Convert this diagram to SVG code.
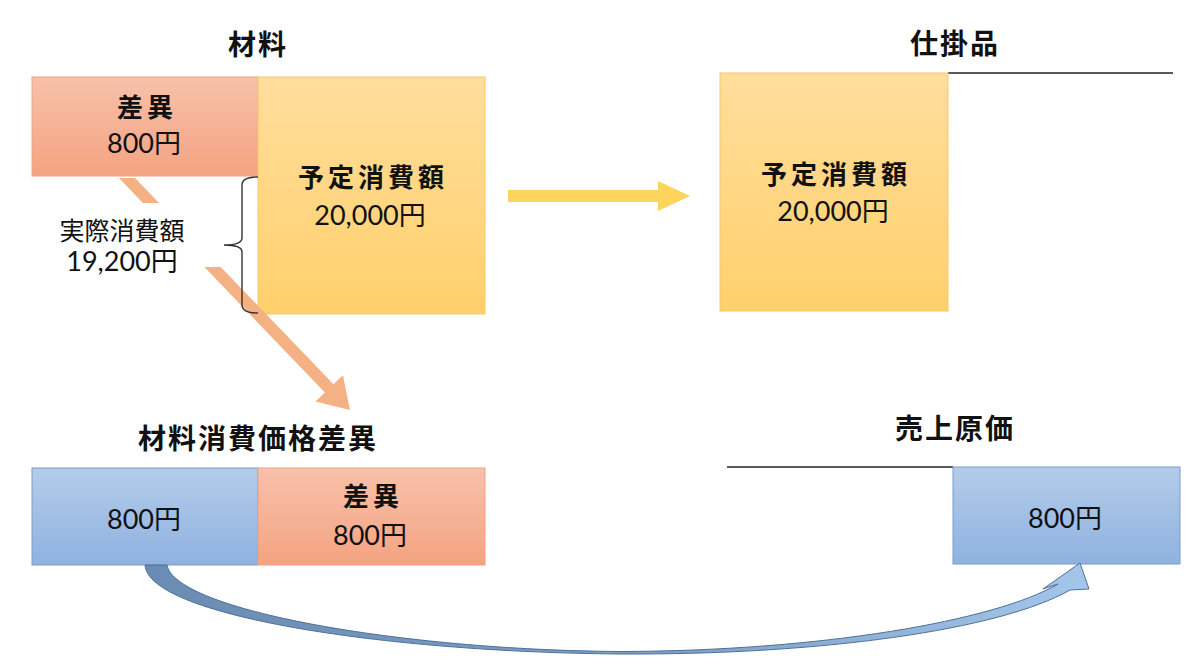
<svg xmlns="http://www.w3.org/2000/svg" width="1200" height="672" viewBox="0 0 1200 672">
<defs>
<linearGradient id="gOrange" x1="0" y1="0" x2="0" y2="1">
<stop offset="0" stop-color="#F8C1AA"/><stop offset="1" stop-color="#F4A381"/>
</linearGradient>
<linearGradient id="gYellow" x1="0" y1="0" x2="0" y2="1">
<stop offset="0" stop-color="#FFDD9C"/><stop offset="1" stop-color="#FFD06B"/>
</linearGradient>
<linearGradient id="gBlue" x1="0" y1="0" x2="0" y2="1">
<stop offset="0" stop-color="#B3CCEA"/><stop offset="1" stop-color="#8FB2E0"/>
</linearGradient>
<linearGradient id="gCurve" x1="0" y1="0" x2="1" y2="0">
<stop offset="0" stop-color="#6A8BB2"/><stop offset="0.55" stop-color="#7F9FC6"/><stop offset="1" stop-color="#A4C6EA"/>
</linearGradient>
<style>
.title{font-family:"Noto Sans CJK JP",sans-serif;font-weight:bold;font-size:28px;fill:#111;text-anchor:middle;letter-spacing:2px}
.lbl{font-family:"Noto Sans CJK JP",sans-serif;font-weight:bold;font-size:26px;fill:#111;text-anchor:middle;letter-spacing:4px}
.val{font-family:Lato,"Noto Sans CJK JP",sans-serif;font-size:27px;fill:#111;text-anchor:middle}
.note{font-family:"Noto Sans CJK JP",sans-serif;font-size:25px;fill:#111;text-anchor:middle}
.or{fill:url(#gOrange);stroke:#F0A283;stroke-width:1}
.ye{fill:url(#gYellow);stroke:#F6C964;stroke-width:1}
.bl{fill:url(#gBlue);stroke:#7C9CC6;stroke-width:1}
.rule{stroke:#222;stroke-width:1.3;fill:none}
</style>
</defs>
<rect width="1200" height="672" fill="#fff"/>

<g id="zairyo">
<text class="title" x="258" y="55">材料</text>
<rect class="or" x="32" y="77" width="226" height="99"/>
<rect class="ye" x="258" y="77" width="227" height="237"/>
<text class="lbl" x="147" y="117">差異</text>
<text class="val" x="144" y="153">800円</text>
<text class="lbl" x="373" y="187">予定消費額</text>
<text class="val" x="370" y="225">20,000円</text>
</g>

<g id="shikakarihin">
<text class="title" x="955" y="54">仕掛品</text>
<line class="rule" x1="948" y1="73" x2="1173" y2="73"/>
<rect class="ye" x="720" y="73" width="228" height="238"/>
<text class="lbl" x="836" y="184">予定消費額</text>
<text class="val" x="833" y="221">20,000円</text>
</g>

<g id="kakakusai">
<text class="title" x="258" y="449">材料消費価格差異</text>
<rect class="bl" x="32" y="468" width="226" height="97"/>
<rect class="or" x="258" y="468" width="227" height="97"/>
<text class="val" x="144" y="529">800円</text>
<text class="lbl" x="373" y="506">差異</text>
<text class="val" x="370" y="545">800円</text>
</g>

<g id="uriagegenka">
<text class="title" x="955" y="439">売上原価</text>
<line class="rule" x1="727" y1="467" x2="953" y2="467"/>
<rect class="bl" x="953" y="467" width="227" height="97"/>
<text class="val" x="1065" y="528">800円</text>
</g>

<g id="connectors">
<polygon points="508,190 658,190 658,181 690,196 658,211 658,202 508,202" fill="#FFD45C"/>
<polygon points="119,178 135,178 333.5,384.2 342.9,375.2 350,410 315.5,401.6 324.9,392.6" fill="#F4B183"/>
<path d="M145,565 C148,615 380,652 620,654 C820,655 1000,630 1070,590 L1089,589 L1080,563 L1043,589 L1058,584 C995,621 820,651 620,651.5 C400,650 175,610 167,565 Z" fill="url(#gCurve)" stroke="#4D7098" stroke-width="1"/>
</g>

<g id="jissai">
<rect x="42" y="203" width="192" height="64" fill="#fff"/>
<path d="M258,177 Q242,177 242,185 L242,238 Q242,245 224,245 Q242,245 242,252 L242,305 Q242,313 258,313" fill="none" stroke="#333" stroke-width="1.4"/>
<text class="note" x="122" y="240">実際消費額</text>
<text class="val" x="122" y="271">19,200円</text>
</g>
</svg>
